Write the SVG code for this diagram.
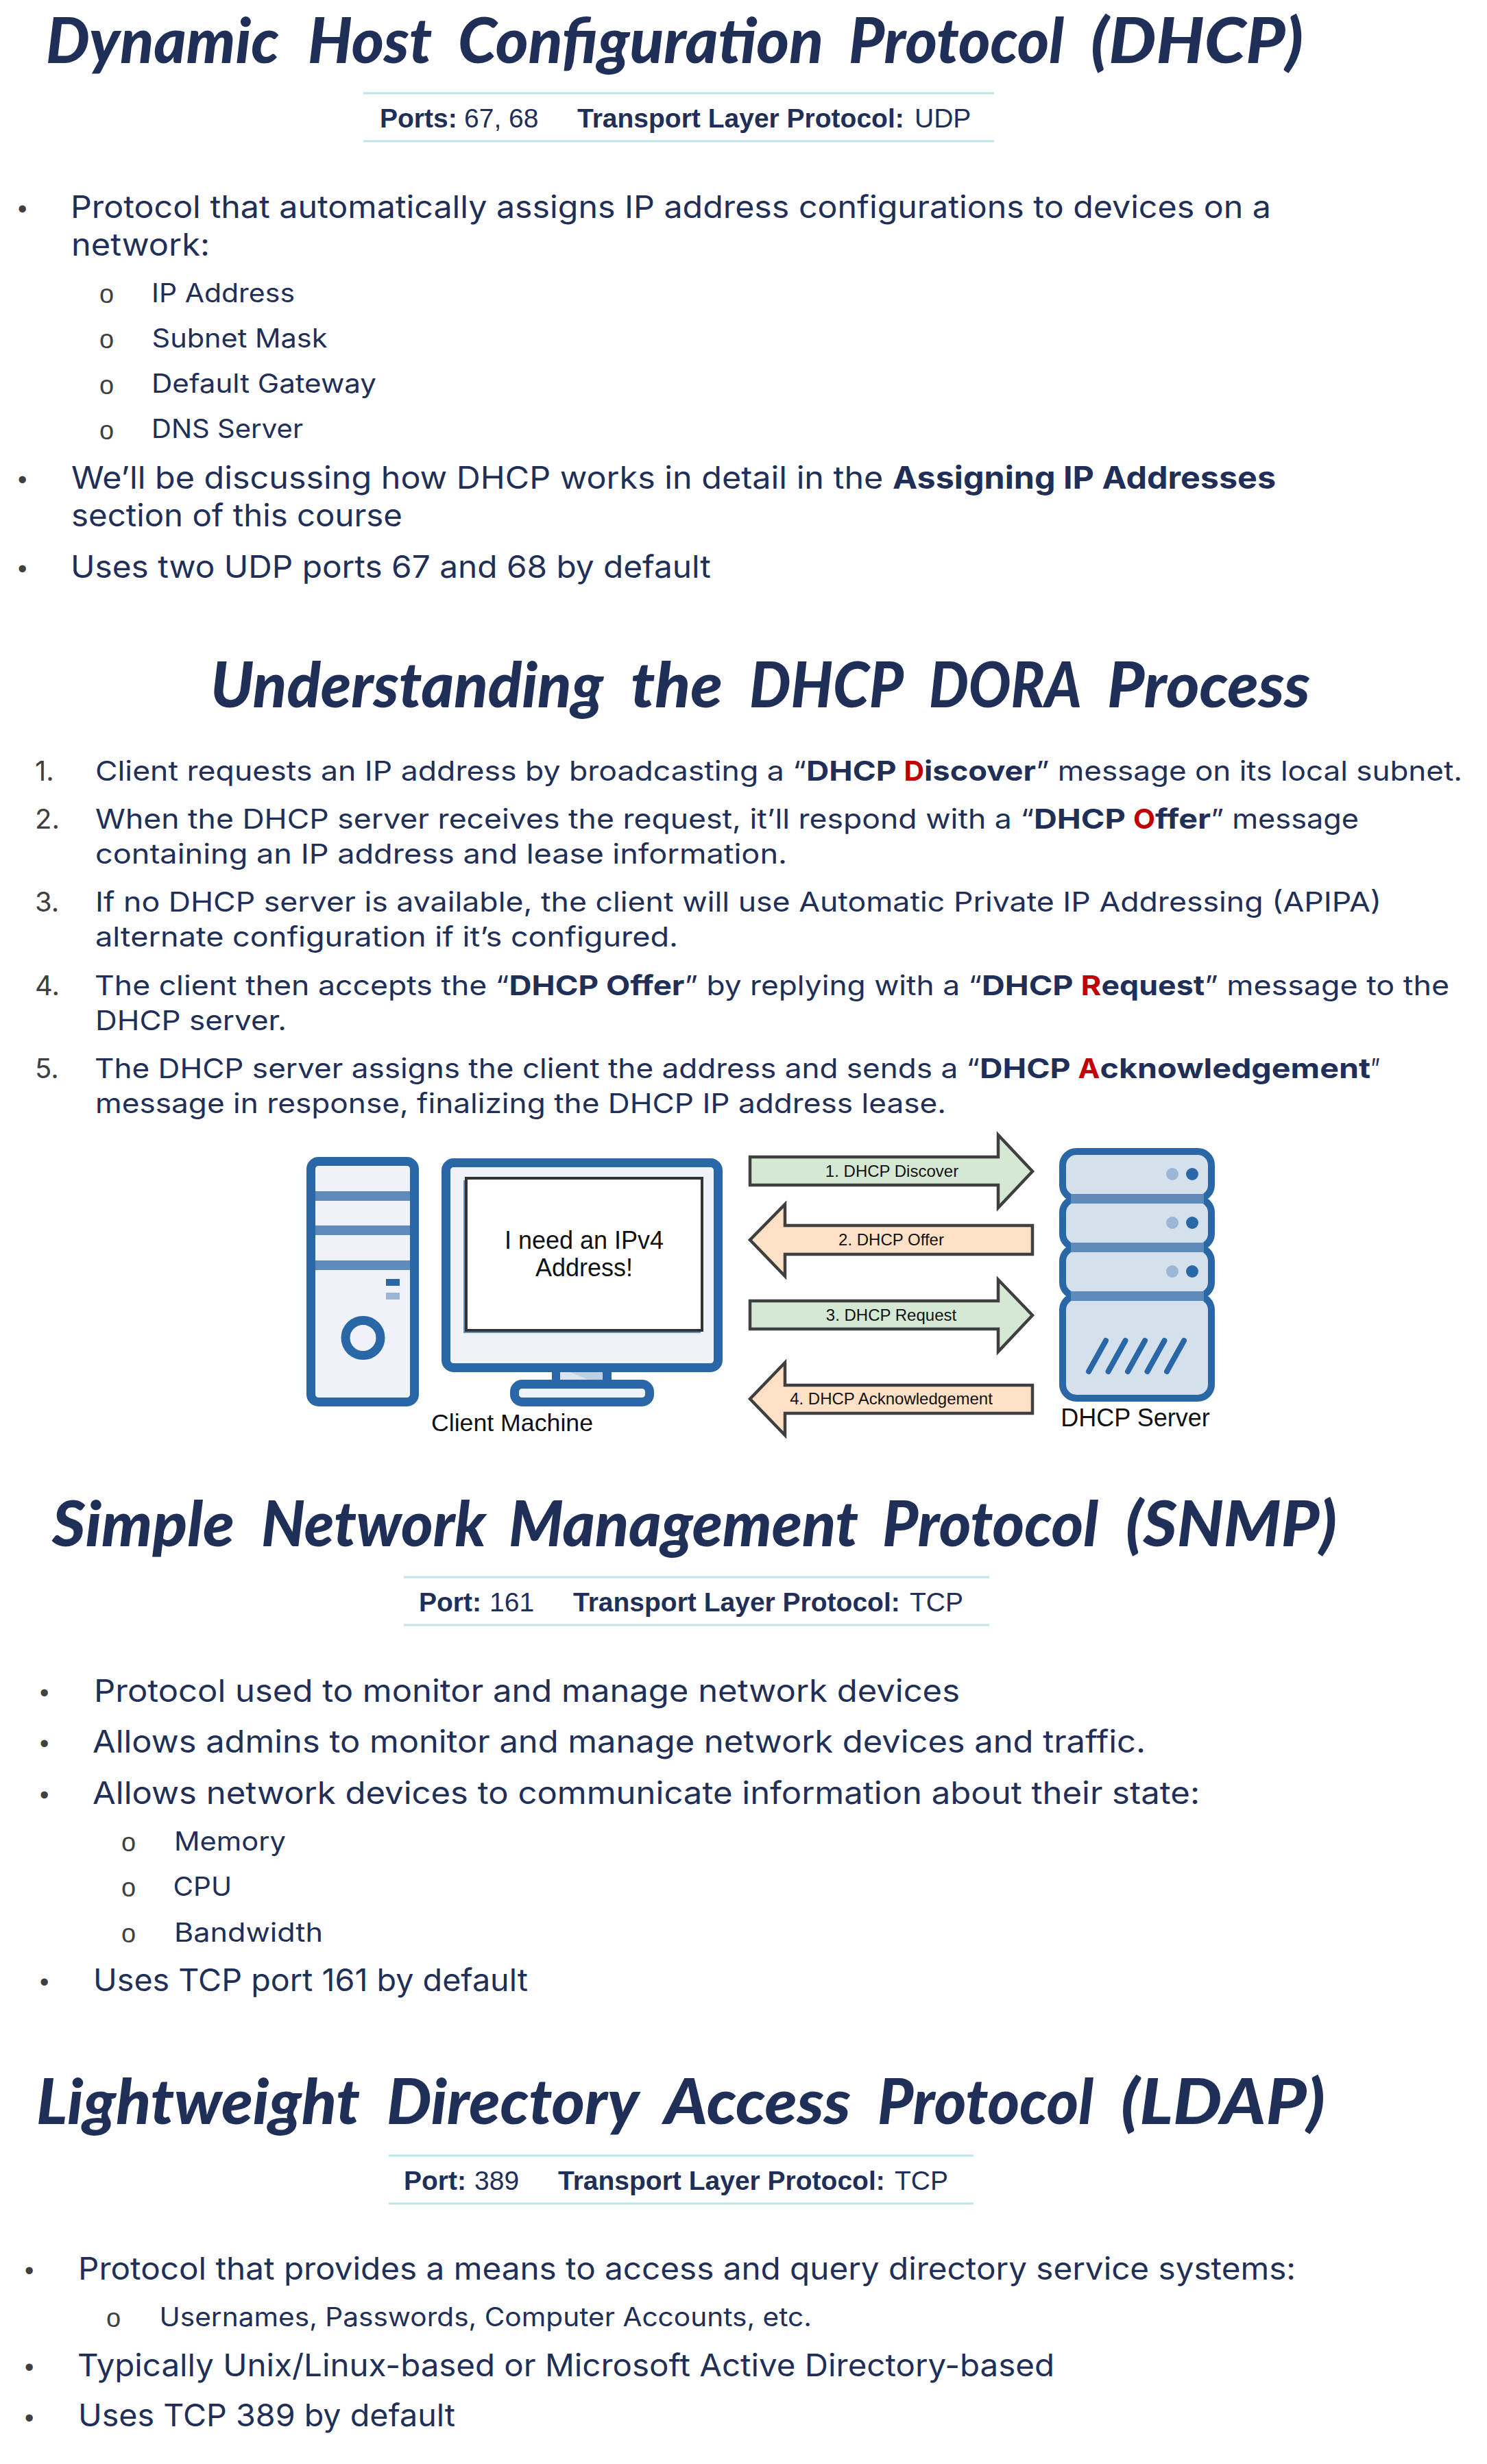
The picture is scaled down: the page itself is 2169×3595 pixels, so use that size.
<svg xmlns="http://www.w3.org/2000/svg" width="2169" height="3595" viewBox="0 0 2169 3595">
<style>
text{white-space:pre}
.t{font-family:"Lato","Open Sans",sans-serif;font-weight:900;font-style:italic;font-size:92px;fill:#1f2f57}
.p{font-family:"Liberation Sans",Arial,sans-serif;font-size:39px;fill:#1f2f57}
.b{font-family:"Inter","Open Sans",sans-serif;font-size:45px;fill:#1f2f57}
.s{font-family:"Inter","Open Sans",sans-serif;font-size:38px;fill:#1f2f57}
.n{font-family:"Inter","Open Sans",sans-serif;font-size:40px;fill:#1f2f57}
.o{font-family:"Liberation Sans",Arial,sans-serif;font-size:38px;fill:#404040}
.d{font-family:"Liberation Sans",Arial,sans-serif;font-size:38px;fill:#404040}
.num{font-family:"Inter","Open Sans",sans-serif;font-size:40px;fill:#404040}
.w{font-weight:700}
.r{font-weight:700;fill:#c00000}
.rule{stroke:#bfe6e6;stroke-width:3;fill:none}
.lab{font-family:"Liberation Sans",Arial,sans-serif;fill:#111;text-anchor:middle}
.blu{fill:#eff3f9;stroke:#2a67a6;stroke-width:13}
.bar{fill:#5f8bbb}
.sv{fill:#d4e0ec;stroke:#2a67a6;stroke-width:10}
.gr{fill:#d5e8d4;stroke:#3f3f3f;stroke-width:4.500}
.or{fill:#fde0c5;stroke:#3f3f3f;stroke-width:4.500}
.lite{fill:#9cb7d5}
.dark{fill:#2a67a6}
.sl{stroke:#2a67a6;stroke-width:8;stroke-linecap:round;fill:none}
</style>

<g id="section-dhcp">
<text class="t" y="92"><tspan x="67" textLength="340" lengthAdjust="spacingAndGlyphs">Dynamic</tspan> <tspan x="449" textLength="181" lengthAdjust="spacingAndGlyphs">Host</tspan> <tspan x="668" textLength="533" lengthAdjust="spacingAndGlyphs">Configuration</tspan> <tspan x="1238" textLength="314" lengthAdjust="spacingAndGlyphs">Protocol</tspan> <tspan x="1591" textLength="310" lengthAdjust="spacingAndGlyphs">(DHCP)</tspan></text>
<path class="rule" d="M530 136H1450M530 206H1450"/>
<text class="p" y="186"><tspan class="w" x="554">Ports: </tspan><tspan x="677">67, 68</tspan> <tspan class="w" x="842">Transport Layer Protocol: </tspan><tspan x="1334">UDP</tspan></text>
<text class="d" x="26" y="318">•</text>
<text class="b" x="103" y="318" textLength="1751" lengthAdjust="spacingAndGlyphs">Protocol that automatically assigns IP address configurations to devices on a</text>
<text class="b" x="104" y="373" textLength="202" lengthAdjust="spacingAndGlyphs">network:</text>
<text class="o" x="145" y="441.500">o</text><text class="s" x="221" y="441" textLength="209" lengthAdjust="spacingAndGlyphs">IP Address</text>
<text class="o" x="145" y="507.500">o</text><text class="s" x="221.500" y="507" textLength="256" lengthAdjust="spacingAndGlyphs">Subnet Mask</text>
<text class="o" x="145" y="574.500">o</text><text class="s" x="221" y="573" textLength="328" lengthAdjust="spacingAndGlyphs">Default Gateway</text>
<text class="o" x="145" y="640.500">o</text><text class="s" x="221" y="639" textLength="221" lengthAdjust="spacingAndGlyphs">DNS Server</text>
<text class="d" x="26" y="713">•</text>
<text class="b" y="713"><tspan x="104" textLength="1198" lengthAdjust="spacingAndGlyphs">We’ll be discussing how DHCP works in detail in the </tspan><tspan class="w" x="1302" textLength="559" lengthAdjust="spacingAndGlyphs">Assigning IP Addresses</tspan></text>
<text class="b" x="104" y="768" textLength="483" lengthAdjust="spacingAndGlyphs">section of this course</text>
<text class="d" x="26" y="843">•</text>
<text class="b" x="103" y="843" textLength="934" lengthAdjust="spacingAndGlyphs">Uses two UDP ports 67 and 68 by default</text>
</g>

<g id="section-dora">
<text class="t" y="1032"><tspan x="307" textLength="573" lengthAdjust="spacingAndGlyphs">Understanding</tspan> <tspan x="920" textLength="134" lengthAdjust="spacingAndGlyphs">the</tspan> <tspan x="1093" textLength="223" lengthAdjust="spacingAndGlyphs">DHCP</tspan> <tspan x="1355" textLength="220" lengthAdjust="spacingAndGlyphs">DORA</tspan> <tspan x="1615" textLength="296" lengthAdjust="spacingAndGlyphs">Process</tspan></text>
<text class="num" x="51" y="1139">1.</text>
<text class="n" y="1139"><tspan x="139" textLength="1037" lengthAdjust="spacingAndGlyphs">Client requests an IP address by broadcasting a “</tspan><tspan class="w" x="1176" textLength="142.500" lengthAdjust="spacingAndGlyphs">DHCP </tspan><tspan class="r" x="1318.500" textLength="29.500" lengthAdjust="spacingAndGlyphs">D</tspan><tspan class="w" x="1348" textLength="163" lengthAdjust="spacingAndGlyphs">iscover</tspan><tspan x="1511" textLength="622" lengthAdjust="spacingAndGlyphs">” message on its local subnet.</tspan></text>
<text class="num" x="51" y="1209">2.</text>
<text class="n" y="1209"><tspan x="139" textLength="1369" lengthAdjust="spacingAndGlyphs">When the DHCP server receives the request, it’ll respond with a “</tspan><tspan class="w" x="1508" textLength="145" lengthAdjust="spacingAndGlyphs">DHCP </tspan><tspan class="r" x="1653" textLength="32" lengthAdjust="spacingAndGlyphs">O</tspan><tspan class="w" x="1685" textLength="81" lengthAdjust="spacingAndGlyphs">ffer</tspan><tspan x="1766" textLength="216" lengthAdjust="spacingAndGlyphs">” message</tspan></text>
<text class="n" x="139" y="1260" textLength="1009" lengthAdjust="spacingAndGlyphs">containing an IP address and lease information.</text>
<text class="num" x="51" y="1330">3.</text>
<text class="n" x="139" y="1330" textLength="1876" lengthAdjust="spacingAndGlyphs">If no DHCP server is available, the client will use Automatic Private IP Addressing (APIPA)</text>
<text class="n" x="139" y="1381" textLength="850" lengthAdjust="spacingAndGlyphs">alternate configuration if it’s configured.</text>
<text class="num" x="51" y="1452">4.</text>
<text class="n" y="1452"><tspan x="138" textLength="604.500" lengthAdjust="spacingAndGlyphs">The client then accepts the “</tspan><tspan class="w" x="742.500" textLength="256" lengthAdjust="spacingAndGlyphs">DHCP Offer</tspan><tspan x="998.500" textLength="433.500" lengthAdjust="spacingAndGlyphs">” by replying with a “</tspan><tspan class="w" x="1432" textLength="144.600" lengthAdjust="spacingAndGlyphs">DHCP </tspan><tspan class="r" x="1576.600" textLength="29.900" lengthAdjust="spacingAndGlyphs">R</tspan><tspan class="w" x="1606.500" textLength="150.500" lengthAdjust="spacingAndGlyphs">equest</tspan><tspan x="1757" textLength="357" lengthAdjust="spacingAndGlyphs">” message to the</tspan></text>
<text class="n" x="139" y="1503" textLength="279" lengthAdjust="spacingAndGlyphs">DHCP server.</text>
<text class="num" x="51" y="1573">5.</text>
<text class="n" y="1573"><tspan x="138" textLength="1291" lengthAdjust="spacingAndGlyphs">The DHCP server assigns the client the address and sends a “</tspan><tspan class="w" x="1429" textLength="143.600" lengthAdjust="spacingAndGlyphs">DHCP </tspan><tspan class="r" x="1572.600" textLength="31.900" lengthAdjust="spacingAndGlyphs">A</tspan><tspan class="w" x="1604.500" textLength="394.500" lengthAdjust="spacingAndGlyphs">cknowledgement</tspan><tspan x="1999" textLength="14" lengthAdjust="spacingAndGlyphs">”</tspan></text>
<text class="n" x="139" y="1624" textLength="1241" lengthAdjust="spacingAndGlyphs">message in response, finalizing the DHCP IP address lease.</text>
</g>

<g id="client-tower">
<rect class="blu" x="453.500" y="1694.500" width="151" height="351" rx="11"/>
<rect class="bar" x="460" y="1738" width="138" height="14"/>
<rect class="bar" x="460" y="1788" width="138" height="14"/>
<rect class="bar" x="460" y="1839" width="138" height="14"/>
<rect class="dark" x="563" y="1866" width="20" height="10"/>
<rect class="lite" x="563" y="1886" width="20" height="10"/>
<circle cx="529.500" cy="1952" r="25.500" fill="none" stroke="#2a67a6" stroke-width="13"/>
</g>

<g id="client-monitor">
<rect x="805" y="1995" width="87" height="24" fill="#2a67a6"/>
<rect x="817" y="2002" width="62" height="12" fill="#dbe4f0"/>
<path d="M832 2002H879V2014H860Z" fill="#bed0e4"/>
<rect class="blu" x="750.500" y="2019.500" width="197" height="26" rx="11"/>
<rect class="blu" x="650.500" y="1696.500" width="397" height="299" rx="11"/>
<rect x="676" y="1722" width="346" height="223" fill="#2a67a6" opacity=".7"/>
<rect x="680" y="1719" width="344" height="222" fill="#fff" stroke="#333" stroke-width="4"/>
<text class="lab" x="852" y="1822" font-size="36">I need an IPv4</text>
<text class="lab" x="852" y="1862" font-size="36">Address!</text>
<text class="lab" x="747" y="2088" font-size="35.700">Client Machine</text>
</g>

<g id="connectors">
<g id="arrow-discover">
<path class="gr" d="M1094 1688H1456V1656L1506 1709L1456 1762V1729H1094Z"/>
<text class="lab" x="1301" y="1717" font-size="24">1. DHCP Discover</text>
</g>
<g id="arrow-offer">
<path class="or" d="M1506 1788H1145V1757L1094 1809L1145 1862V1830H1506Z"/>
<text class="lab" x="1300" y="1817" font-size="24">2. DHCP Offer</text>
</g>
<g id="arrow-request">
<path class="gr" d="M1094 1898H1456V1867L1506 1919L1456 1972V1939H1094Z"/>
<text class="lab" x="1300" y="1927" font-size="24">3. DHCP Request</text>
</g>
<g id="arrow-ack">
<path class="or" d="M1506 2021H1145V1988L1094 2041L1145 2094V2062H1506Z"/>
<text class="lab" x="1300" y="2049" font-size="24">4. DHCP Acknowledgement</text>
</g>
</g>

<g id="dhcp-server">
<rect class="sv" x="1550" y="1891" width="217" height="149" rx="20"/>
<rect class="sv" x="1550" y="1820" width="217" height="71" rx="20"/>
<rect class="sv" x="1550" y="1749" width="217" height="71" rx="20"/>
<rect class="sv" x="1550" y="1680" width="217" height="69" rx="20"/>
<rect class="bar" x="1562" y="1742" width="194" height="14"/>
<rect class="bar" x="1562" y="1813" width="194" height="14"/>
<rect class="bar" x="1562" y="1884" width="194" height="14"/>
<circle class="lite" cx="1710" cy="1713" r="9"/><circle class="dark" cx="1739" cy="1713" r="9"/>
<circle class="lite" cx="1710" cy="1784" r="9"/><circle class="dark" cx="1739" cy="1784" r="9"/>
<circle class="lite" cx="1710" cy="1855" r="9"/><circle class="dark" cx="1739" cy="1855" r="9"/>
<path class="sl" d="M1588 2001L1613 1956M1616.500 2001L1641.500 1956M1645 2001L1670 1956M1673.500 2001L1698.500 1956M1702 2001L1727 1956"/>
<text class="lab" x="1656" y="2081" font-size="36">DHCP Server</text>
</g>

<g id="section-snmp">
<text class="t" y="2256"><tspan x="76" textLength="266" lengthAdjust="spacingAndGlyphs">Simple</tspan> <tspan x="381" textLength="328" lengthAdjust="spacingAndGlyphs">Network</tspan> <tspan x="742" textLength="510" lengthAdjust="spacingAndGlyphs">Management</tspan> <tspan x="1287" textLength="315" lengthAdjust="spacingAndGlyphs">Protocol</tspan> <tspan x="1642" textLength="308" lengthAdjust="spacingAndGlyphs">(SNMP)</tspan></text>
<path class="rule" d="M589 2301H1443M589 2371H1443"/>
<text class="p" y="2351"><tspan class="w" x="611">Port: </tspan><tspan x="714">161</tspan> <tspan class="w" x="836">Transport Layer Protocol: </tspan><tspan x="1327">TCP</tspan></text>
<text class="d" x="58" y="2483">•</text>
<text class="b" x="137" y="2483" textLength="1263" lengthAdjust="spacingAndGlyphs">Protocol used to monitor and manage network devices</text>
<text class="d" x="58" y="2557">•</text>
<text class="b" x="135" y="2557" textLength="1536" lengthAdjust="spacingAndGlyphs">Allows admins to monitor and manage network devices and traffic.</text>
<text class="d" x="58" y="2632">•</text>
<text class="b" x="135" y="2632" textLength="1615" lengthAdjust="spacingAndGlyphs">Allows network devices to communicate information about their state:</text>
<text class="o" x="177" y="2700.500">o</text><text class="s" x="254" y="2700" textLength="163" lengthAdjust="spacingAndGlyphs">Memory</text>
<text class="o" x="177" y="2766.500">o</text><text class="s" x="252.500" y="2766" textLength="85.500" lengthAdjust="spacingAndGlyphs">CPU</text>
<text class="o" x="177" y="2833.500">o</text><text class="s" x="254" y="2833" textLength="217" lengthAdjust="spacingAndGlyphs">Bandwidth</text>
<text class="d" x="58" y="2905">•</text>
<text class="b" x="136" y="2905" textLength="634" lengthAdjust="spacingAndGlyphs">Uses TCP port 161 by default</text>
</g>

<g id="section-ldap">
<text class="t" y="3099"><tspan x="53" textLength="472" lengthAdjust="spacingAndGlyphs">Lightweight</tspan> <tspan x="564" textLength="366" lengthAdjust="spacingAndGlyphs">Directory</tspan> <tspan x="969" textLength="272" lengthAdjust="spacingAndGlyphs">Access</tspan> <tspan x="1280" textLength="315" lengthAdjust="spacingAndGlyphs">Protocol</tspan> <tspan x="1635" textLength="298" lengthAdjust="spacingAndGlyphs">(LDAP)</tspan></text>
<path class="rule" d="M567 3145H1420M567 3215H1420"/>
<text class="p" y="3195"><tspan class="w" x="589">Port: </tspan><tspan x="692">389</tspan> <tspan class="w" x="814">Transport Layer Protocol: </tspan><tspan x="1305">TCP</tspan></text>
<text class="d" x="36" y="3326">•</text>
<text class="b" x="114" y="3326" textLength="1776" lengthAdjust="spacingAndGlyphs">Protocol that provides a means to access and query directory service systems:</text>
<text class="o" x="155" y="3394.500">o</text><text class="s" x="232.500" y="3394" textLength="951.500" lengthAdjust="spacingAndGlyphs">Usernames, Passwords, Computer Accounts, etc.</text>
<text class="d" x="36" y="3467">•</text>
<text class="b" x="113" y="3467" textLength="1425" lengthAdjust="spacingAndGlyphs">Typically Unix/Linux-based or Microsoft Active Directory-based</text>
<text class="d" x="36" y="3541">•</text>
<text class="b" x="114" y="3540" textLength="550" lengthAdjust="spacingAndGlyphs">Uses TCP 389 by default</text>
</g>
</svg>
